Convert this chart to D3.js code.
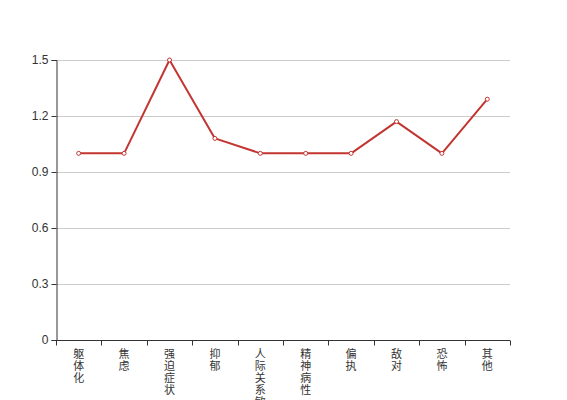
<!DOCTYPE html>
<html>
<head>
  <meta charset="utf-8">
  <title>Line chart</title>
  <script src="https://cdnjs.cloudflare.com/ajax/libs/d3/7.8.5/d3.min.js"></script>
  <style>
    html, body { margin: 0; padding: 0; background: #fff; }
    text { font-family: "Liberation Sans", "Noto Sans CJK SC", sans-serif; fill: #333; }
    .xlabel { font-family: "Noto Sans CJK SC", sans-serif; }
  </style>
</head>
<body>
  <svg id="chart" width="567" height="400"></svg>
  <script>
    let categories = ['躯体化', '焦虑', '强迫症状', '抑郁', '人际关系敏感', '精神病性', '偏执', '敌对', '恐怖', '其他']
    let values = [1, 1, 1.5, 1.08, 1, 1, 1, 1.17, 1, 1.29]
    let yTicks = [0, 0.3, 0.6, 0.9, 1.2, 1.5]

    let margin = { left: 56, right: 57, top: 60, bottom: 60 }
    let width = 567, height = 400
    let color = '#c23531'

    let svg = d3.select('#chart')

    let x = d3.scaleBand().domain(categories).range([margin.left, width - margin.right])
    let y = d3.scaleLinear().domain([0, 1.5]).range([height - margin.bottom, margin.top])

    // grid
    svg.append('g')
      .selectAll('line')
      .data(yTicks.filter(d => d > 0))
      .join('line')
      .attr('x1', margin.left).attr('x2', width - margin.right)
      .attr('y1', d => Math.round(y(d)) + 0.5).attr('y2', d => Math.round(y(d)) + 0.5)
      .attr('stroke', '#ccc')

    // y axis
    let yAxis = svg.append('g')
      .attr('transform', `translate(${margin.left + 0.5},0)`)
      .call(d3.axisLeft(y).tickValues(yTicks).tickFormat(d => d).tickSizeOuter(0).tickSize(5).tickPadding(3))
    yAxis.select('.domain').attr('stroke', '#333')
    yAxis.selectAll('.tick line').attr('stroke', '#333')
    yAxis.selectAll('text').style('font-size', '12px').attr('font-family', null)

    // x axis
    let xAxis = svg.append('g')
      .attr('transform', `translate(0,${height - margin.bottom + 0.5})`)
    xAxis.append('line')
      .attr('x1', margin.left).attr('x2', width - margin.right)
      .attr('stroke', '#333')
    let bounds = categories.map(c => x(c)).concat([x.range()[1]])
    xAxis.selectAll('.xtick')
      .data(bounds)
      .join('line')
      .attr('class', 'xtick')
      .attr('x1', d => Math.round(d) + 0.5).attr('x2', d => Math.round(d) + 0.5)
      .attr('y1', 0).attr('y2', 5)
      .attr('stroke', '#333')

    let labels = xAxis.selectAll('.xlabel')
      .data(categories)
      .join('text')
      .attr('class', 'xlabel')
      .attr('text-anchor', 'middle')
      .style('font-size', '11px')
    labels.selectAll('tspan')
      .data(d => d.split(''))
      .join('tspan')
      .attr('x', function () { let c = d3.select(this.parentNode).datum(); return x(c) + x.bandwidth() / 2 })
      .attr('y', (d, i) => 17 + i * 12)
      .text(d => d)

    // line
    let line = d3.line()
      .x((d, i) => x(categories[i]) + x.bandwidth() / 2)
      .y(d => y(d))

    svg.append('path')
      .datum(values)
      .attr('d', line)
      .attr('fill', 'none')
      .attr('stroke', color)
      .attr('stroke-width', 2)
      .attr('stroke-linejoin', 'round')

    svg.append('g')
      .selectAll('circle')
      .data(values)
      .join('circle')
      .attr('cx', (d, i) => x(categories[i]) + x.bandwidth() / 2)
      .attr('cy', d => y(d))
      .attr('r', 2)
      .attr('fill', '#fff')
      .attr('stroke', color)
      .attr('stroke-width', 1)
  </script>
</body>
</html>
